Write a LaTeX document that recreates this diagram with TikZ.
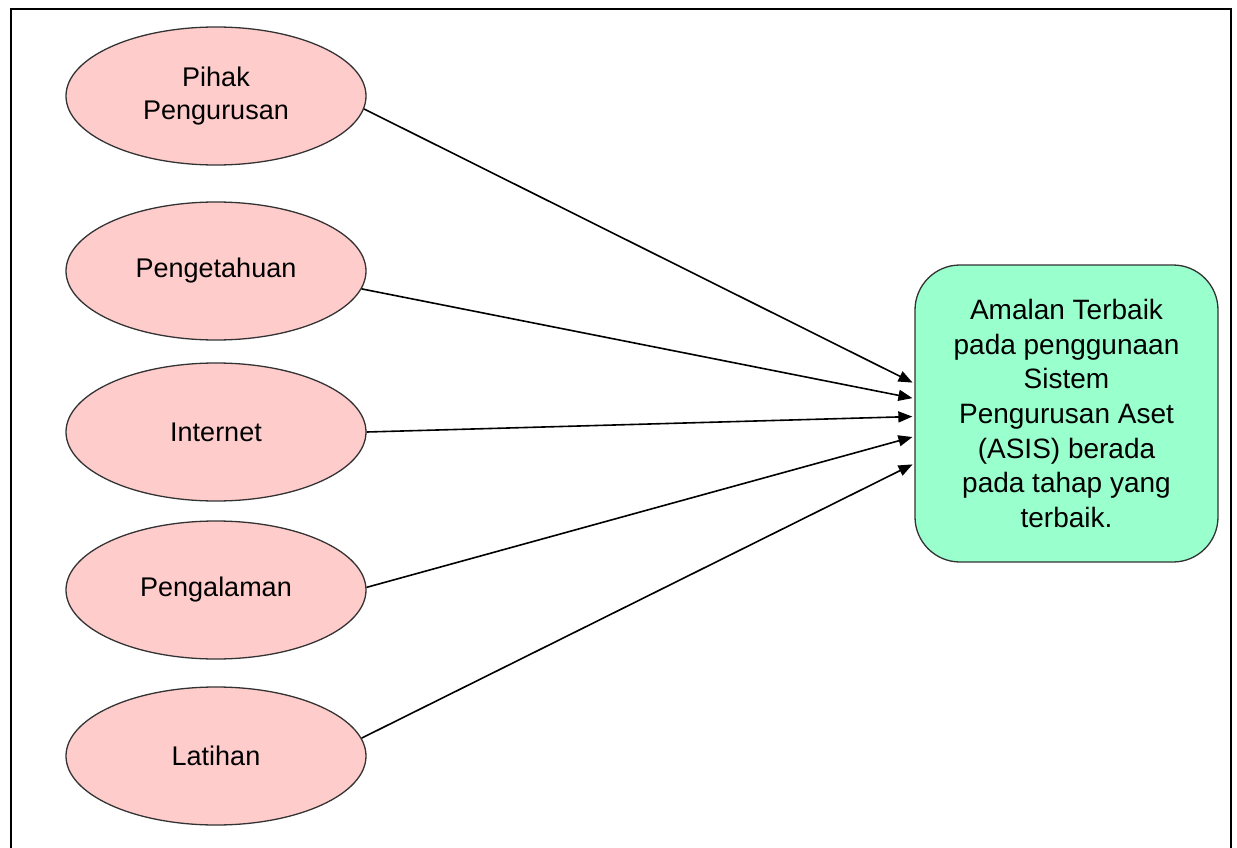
\documentclass[tikz,border=0pt]{standalone}
\usepackage{fontspec}
\setmainfont{Liberation Sans}
\usetikzlibrary{arrows.meta,positioning,shapes.geometric}
\definecolor{pinkfill}{HTML}{FFCCCC}
\definecolor{greenfill}{HTML}{99FFCC}
\tikzset{%
  % Specifications for style of nodes:
            base/.style = {draw=black!80, line width=1.3pt, text centered,
                           font=\fontsize{27}{32.4}\selectfont},
          factor/.style = {base, ellipse, fill=pinkfill, inner sep=0pt,
                           minimum width=300pt, minimum height=138pt},
         outcome/.style = {base, rectangle, rounded corners=45pt, fill=greenfill,
                           font=\fontsize{28}{34.7}\selectfont,
                           minimum width=303pt, minimum height=297pt, align=center},
pil/.style={
           -{Triangle[length=14pt,width=11pt]},
           line width=1.6pt,
           shorten >=2pt,}
}
\begin{document}
\begin{tikzpicture}[x=1pt, y=-1pt, node distance=165pt, align=center]
\useasboundingbox (0,0) rectangle (1237,848);
\draw[line width=1.8pt] (11,870) -- (11,9) -- (1231,9) -- (1231,870);

\node (pihak)      [factor] at (216,96)  {Pihak\\Pengurusan};
\node (ilmu)       [factor] at (216,271) {Pengetahuan};
\node (internet)   [factor] at (216,432) {Internet};
\node (pengalaman) [factor] at (216,590) {Pengalaman};
\node (latihan)    [factor] at (216,756) {Latihan};

\node (amalan) [outcome] at (1066.5,413.5)
  {Amalan Terbaik\\pada penggunaan\\Sistem\\Pengurusan Aset\\(ASIS) berada\\pada tahap yang\\terbaik.};

\draw[pil] (pihak.-5)      -- ([yshift=30pt]amalan.west);
\draw[pil] (ilmu.-7)       -- ([yshift=15pt]amalan.west);
\draw[pil] (internet.0)    -- ([yshift=-3pt]amalan.west);
\draw[pil] (pengalaman.1)  -- ([yshift=-23pt]amalan.west);
\draw[pil] (latihan.7)     -- ([yshift=-50pt]amalan.west);

\end{tikzpicture}
\end{document}
